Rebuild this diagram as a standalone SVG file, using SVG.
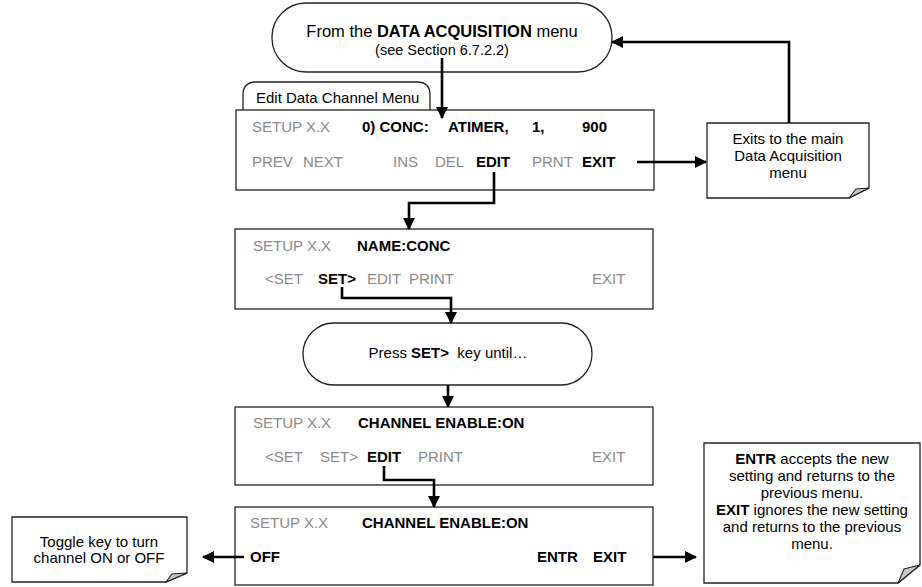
<svg xmlns="http://www.w3.org/2000/svg" width="922" height="587" viewBox="0 0 922 587">
<defs>
<style>
text{font-family:"Liberation Sans",Arial,sans-serif;font-size:15px;fill:#000;}
.g{fill:#8a8a8a;}
.b{font-weight:bold;}
.box{fill:#fff;stroke:#222;stroke-width:1.3;}
.note{fill:#fff;stroke:#222;stroke-width:1.3;}
.fold{fill:#c8c8c8;stroke:#222;stroke-width:1.1;}
.c{fill:none;stroke:#000;stroke-width:2.6;}
.m{text-anchor:middle;}
</style>
<marker id="ah" markerWidth="12" markerHeight="12" viewBox="0 0 12 12" refX="11" refY="6" orient="auto" markerUnits="userSpaceOnUse">
<path d="M0,0 L12,6 L0,12 Z" fill="#000"/>
</marker>
</defs>
<rect width="922" height="587" fill="#fff"/>

<g id="start">
<rect class="box" x="272" y="3" width="340" height="69" rx="34" ry="34"/>
<text class="m" x="442" y="37" style="font-size:16.5px">From the <tspan class="b">DATA ACQUISITION</tspan> menu</text>
<text class="m" x="442" y="55" style="font-size:14.5px">(see Section 6.7.2.2)</text>
</g>

<g id="tab">
<path class="box" d="M243,110 V95 Q243,82 256,82 H417 Q430,82 430,95 V110"/>
<text x="256" y="103">Edit Data Channel Menu</text>
</g>

<g id="box1">
<rect class="box" x="236" y="110" width="418" height="80"/>
<text class="g" x="252" y="132">SETUP X.X</text>
<text class="b" x="362" y="132">0) CONC:</text>
<text class="b" x="448" y="132">ATIMER,</text>
<text class="b" x="532" y="132">1,</text>
<text class="b" x="582" y="132">900</text>
<text class="g" x="252" y="167">PREV</text>
<text class="g" x="303" y="167">NEXT</text>
<text class="g" x="393" y="167">INS</text>
<text class="g" x="435" y="167">DEL</text>
<text class="b" x="476" y="167">EDIT</text>
<text class="g" x="532" y="167">PRNT</text>
<text class="b" x="582" y="167">EXIT</text>
</g>

<g id="note1">
<path class="note" d="M707,123 H869 V188 L849,198 H707 Z"/>
<path class="fold" d="M849,198 L856,189 L869,188 Z"/>
<text class="m" x="788" y="144">Exits to the main</text>
<text class="m" x="788" y="161">Data Acquisition</text>
<text class="m" x="788" y="178">menu</text>
</g>

<g id="box2">
<rect class="box" x="235" y="229" width="418" height="80"/>
<text class="g" x="253" y="251">SETUP X.X</text>
<text class="b" x="357" y="251">NAME:CONC</text>
<text class="g" x="265" y="284">&lt;SET</text>
<text class="b" x="318" y="284">SET&gt;</text>
<text class="g" x="367" y="284">EDIT</text>
<text class="g" x="409" y="284">PRINT</text>
<text class="g" x="592" y="284">EXIT</text>
</g>

<g id="press">
<rect class="box" x="303" y="323" width="289" height="62" rx="31" ry="31"/>
<text class="m" x="448" y="358">Press <tspan class="b">SET&gt;</tspan>&#160; key until…</text>
</g>

<g id="box3">
<rect class="box" x="235" y="407" width="418" height="78"/>
<text class="g" x="253" y="428">SETUP X.X</text>
<text class="b" x="358" y="428">CHANNEL ENABLE:ON</text>
<text class="g" x="265" y="462">&lt;SET</text>
<text class="g" x="320" y="462">SET&gt;</text>
<text class="b" x="367" y="462">EDIT</text>
<text class="g" x="418" y="462">PRINT</text>
<text class="g" x="592" y="462">EXIT</text>
</g>

<g id="box4">
<rect class="box" x="235" y="507" width="418" height="78"/>
<text class="g" x="250" y="528">SETUP X.X</text>
<text class="b" x="362" y="528">CHANNEL ENABLE:ON</text>
<text class="b" x="250" y="562">OFF</text>
<text class="b" x="537" y="562">ENTR</text>
<text class="b" x="593" y="562">EXIT</text>
</g>

<g id="note2">
<path class="note" d="M704,443 H920 V565 L898,583 H704 Z"/>
<path class="fold" d="M898,583 L904,569 L920,565 Z"/>
<text class="m" x="812" y="464"><tspan class="b">ENTR</tspan> accepts the new</text>
<text class="m" x="812" y="481">setting and returns to the</text>
<text class="m" x="812" y="498">previous menu.</text>
<text class="m" x="812" y="515"><tspan class="b">EXIT</tspan> ignores the new setting</text>
<text class="m" x="812" y="532">and returns to the previous</text>
<text class="m" x="812" y="549">menu.</text>
</g>

<g id="note3">
<path class="note" d="M12,517 H187 V573 L166,582 H12 Z"/>
<path class="fold" d="M166,582 L172,574 L187,573 Z"/>
<text class="m" x="99" y="547">Toggle key to turn</text>
<text class="m" x="99" y="563">channel ON or OFF</text>
</g>

<g id="connectors">
<path class="c" d="M442,58 V118" marker-end="url(#ah)"/>
<path class="c" d="M494,172 V203 H409 V229" marker-end="url(#ah)"/>
<path class="c" d="M637,162 H706" marker-end="url(#ah)"/>
<path class="c" d="M789,123 V42 H612" marker-end="url(#ah)"/>
<path class="c" d="M342,287 V298 H451 V323" marker-end="url(#ah)"/>
<path class="c" d="M448,385 V407" marker-end="url(#ah)"/>
<path class="c" d="M384,466 V480 H434 V507" marker-end="url(#ah)"/>
<path class="c" d="M244,557 H203" marker-end="url(#ah)"/>
<path class="c" d="M653,557 H696" marker-end="url(#ah)"/>
</g>
</svg>
